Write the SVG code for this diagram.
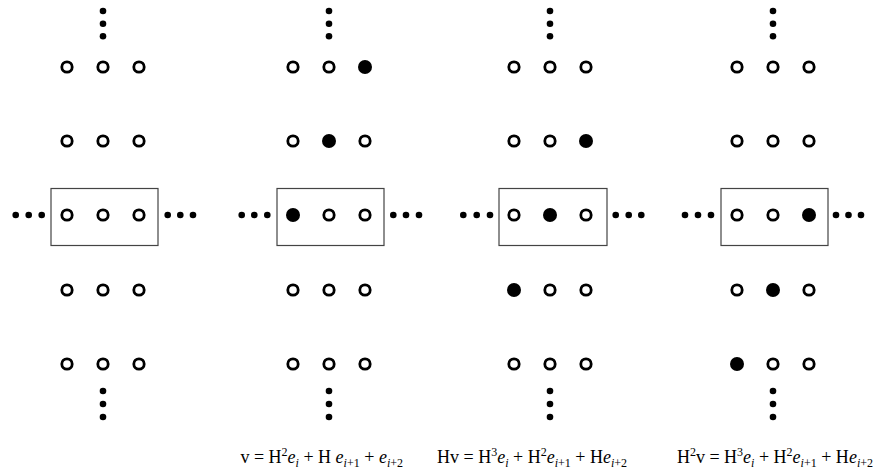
<svg xmlns="http://www.w3.org/2000/svg" width="875" height="471" viewBox="0 0 875 471">
<style>
.o{fill:#fff;stroke:#000;stroke-width:2.8}
.f{fill:#000}
.d{fill:#000}
.box{fill:none;stroke:#444;stroke-width:1.2}
.eq{font-family:"Liberation Serif","Times New Roman",serif;font-size:18px;fill:#000}
.it{font-style:italic}
.s{font-size:12px}
</style>
<defs>
<circle id="oc" r="5.2" class="o"/>
<circle id="fc" r="7" class="f"/>
<circle id="dt" r="3.3" class="d"/>
</defs>
<g id="connectors"/>
<g id="panel1">
<rect class="box" x="51" y="188.5" width="107" height="57"/>
<use href="#dt" x="103" y="11"/><use href="#dt" x="103" y="23.7"/><use href="#dt" x="103" y="36.3"/>
<use href="#dt" x="103" y="391"/><use href="#dt" x="103" y="404"/><use href="#dt" x="103" y="417"/>
<use href="#dt" x="15.7" y="215"/><use href="#dt" x="28.7" y="215"/><use href="#dt" x="41.7" y="215"/>
<use href="#dt" x="167.7" y="215"/><use href="#dt" x="180.3" y="215"/><use href="#dt" x="193" y="215"/>
<use href="#oc" x="67" y="67"/><use href="#oc" x="103" y="67"/><use href="#oc" x="139" y="67"/>
<use href="#oc" x="67" y="141"/><use href="#oc" x="103" y="141"/><use href="#oc" x="139" y="141"/>
<use href="#oc" x="67" y="215"/><use href="#oc" x="103" y="215"/><use href="#oc" x="139" y="215"/>
<use href="#oc" x="67" y="290"/><use href="#oc" x="103" y="290"/><use href="#oc" x="139" y="290"/>
<use href="#oc" x="67" y="364"/><use href="#oc" x="103" y="364"/><use href="#oc" x="139" y="364"/>
</g>
<g id="panel2">
<rect class="box" x="277" y="188.5" width="107" height="57"/>
<use href="#dt" x="329" y="11"/><use href="#dt" x="329" y="23.7"/><use href="#dt" x="329" y="36.3"/>
<use href="#dt" x="329" y="391"/><use href="#dt" x="329" y="404"/><use href="#dt" x="329" y="417"/>
<use href="#dt" x="241.7" y="215"/><use href="#dt" x="254.3" y="215"/><use href="#dt" x="267.3" y="215"/>
<use href="#dt" x="393.3" y="215"/><use href="#dt" x="406" y="215"/><use href="#dt" x="419" y="215"/>
<use href="#oc" x="293" y="67"/><use href="#oc" x="329" y="67"/><use href="#fc" x="365" y="67"/>
<use href="#oc" x="293" y="141"/><use href="#fc" x="329" y="141"/><use href="#oc" x="365" y="141"/>
<use href="#fc" x="293" y="215"/><use href="#oc" x="329" y="215"/><use href="#oc" x="365" y="215"/>
<use href="#oc" x="293" y="290"/><use href="#oc" x="329" y="290"/><use href="#oc" x="365" y="290"/>
<use href="#oc" x="293" y="364"/><use href="#oc" x="329" y="364"/><use href="#oc" x="365" y="364"/>
</g>
<g id="panel3">
<rect class="box" x="499" y="188.5" width="108" height="57"/>
<use href="#dt" x="550" y="11"/><use href="#dt" x="550" y="23.7"/><use href="#dt" x="550" y="36.3"/>
<use href="#dt" x="550" y="391"/><use href="#dt" x="550" y="404"/><use href="#dt" x="550" y="417"/>
<use href="#dt" x="463.3" y="215"/><use href="#dt" x="476.7" y="215"/><use href="#dt" x="490" y="215"/>
<use href="#dt" x="615.7" y="215"/><use href="#dt" x="628.7" y="215"/><use href="#dt" x="641.3" y="215"/>
<use href="#oc" x="514" y="67"/><use href="#oc" x="550" y="67"/><use href="#oc" x="586" y="67"/>
<use href="#oc" x="514" y="141"/><use href="#oc" x="550" y="141"/><use href="#fc" x="586" y="141"/>
<use href="#oc" x="514" y="215"/><use href="#fc" x="550" y="215"/><use href="#oc" x="586" y="215"/>
<use href="#fc" x="514" y="290"/><use href="#oc" x="550" y="290"/><use href="#oc" x="586" y="290"/>
<use href="#oc" x="514" y="364"/><use href="#oc" x="550" y="364"/><use href="#oc" x="586" y="364"/>
</g>
<g id="panel4">
<rect class="box" x="721" y="188.5" width="107" height="57"/>
<use href="#dt" x="773" y="11"/><use href="#dt" x="773" y="23.7"/><use href="#dt" x="773" y="36.3"/>
<use href="#dt" x="773" y="391"/><use href="#dt" x="773" y="404"/><use href="#dt" x="773" y="417"/>
<use href="#dt" x="685" y="215"/><use href="#dt" x="698" y="215"/><use href="#dt" x="711" y="215"/>
<use href="#dt" x="836" y="215"/><use href="#dt" x="848.5" y="215"/><use href="#dt" x="861" y="215"/>
<use href="#oc" x="737" y="67"/><use href="#oc" x="773" y="67"/><use href="#oc" x="809" y="67"/>
<use href="#oc" x="737" y="141"/><use href="#oc" x="773" y="141"/><use href="#oc" x="809" y="141"/>
<use href="#oc" x="737" y="215"/><use href="#oc" x="773" y="215"/><use href="#fc" x="809" y="215"/>
<use href="#oc" x="737" y="290"/><use href="#fc" x="773" y="290"/><use href="#oc" x="809" y="290"/>
<use href="#fc" x="737" y="364"/><use href="#oc" x="773" y="364"/><use href="#oc" x="809" y="364"/>
</g>
<g id="formulas">
<text class="eq" x="403" y="463" text-anchor="end">v = H<tspan class="s" dy="-7">2</tspan><tspan class="it" dy="7">e</tspan><tspan class="s it" dy="4">i</tspan><tspan dy="-4"> + H </tspan><tspan class="it">e</tspan><tspan class="s" dy="4"><tspan class="it">i</tspan>+1</tspan><tspan dy="-4"> + </tspan><tspan class="it">e</tspan><tspan class="s" dy="4"><tspan class="it">i</tspan>+2</tspan></text>
<text class="eq" x="437" y="463">Hv = H<tspan class="s" dy="-7">3</tspan><tspan class="it" dy="7">e</tspan><tspan class="s it" dy="4">i</tspan><tspan dy="-4"> + H</tspan><tspan class="s" dy="-7">2</tspan><tspan class="it" dy="7">e</tspan><tspan class="s" dy="4"><tspan class="it">i</tspan>+1</tspan><tspan dy="-4"> + H</tspan><tspan class="it">e</tspan><tspan class="s" dy="4"><tspan class="it">i</tspan>+2</tspan></text>
<text class="eq" x="873" y="463" text-anchor="end">H<tspan class="s" dy="-7">2</tspan><tspan dy="7">v = H</tspan><tspan class="s" dy="-7">3</tspan><tspan class="it" dy="7">e</tspan><tspan class="s it" dy="4">i</tspan><tspan dy="-4"> + H</tspan><tspan class="s" dy="-7">2</tspan><tspan class="it" dy="7">e</tspan><tspan class="s" dy="4"><tspan class="it">i</tspan>+1</tspan><tspan dy="-4"> + H</tspan><tspan class="it">e</tspan><tspan class="s" dy="4"><tspan class="it">i</tspan>+2</tspan></text>
</g>
</svg>
